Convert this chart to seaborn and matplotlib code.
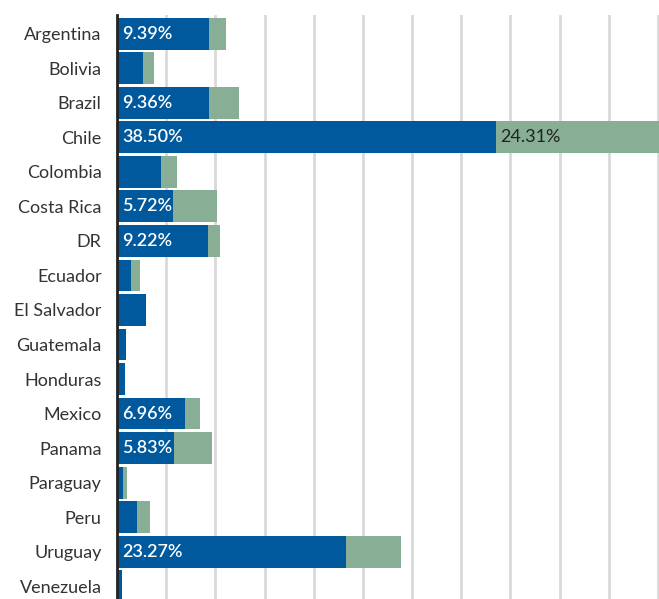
import seaborn as sns
import matplotlib.pyplot as plt
import pandas as pd

countries = ['Argentina', 'Bolivia', 'Brazil', 'Chile', 'Colombia', 'Costa Rica', 'DR',
             'Ecuador', 'El Salvador', 'Guatemala', 'Honduras', 'Mexico', 'Panama',
             'Paraguay', 'Peru', 'Uruguay', 'Venezuela']
blue_vals = [9.39, 2.6, 9.36, 38.50, 4.43, 5.72, 9.22, 1.46, 2.98, 0.95, 0.81,
             6.96, 5.83, 0.64, 2.06, 23.27, 0.5]
green_vals = [1.7, 1.2, 3.0, 24.31, 1.7, 4.47, 1.24, 0.91, 0.0, 0.0, 0.0,
              1.5, 3.84, 0.34, 1.25, 5.56, 0.0]
blue_labels = ['9.39%', '', '9.36%', '38.50%', '', '5.72%', '9.22%', '', '', '', '',
               '6.96%', '5.83%', '', '', '23.27%', '']
green_labels = ['', '', '', '24.31%', '', '', '', '', '', '', '', '', '', '', '', '', '']

df = pd.DataFrame({'pais': countries, 'azul': blue_vals, 'verde': green_vals})
df['total'] = df['azul'] + df['verde']

BLUE = '#00599c'
GREEN = '#88ae95'

sns.set_style('white')
plt.rcParams['font.family'] = ['Lato', 'DejaVu Sans']

fig = plt.figure(figsize=(6.59, 5.99), dpi=100)
ax = fig.add_axes([117 / 659, 0, 1 - 117 / 659, 1 - 15 / 599])

# total first (green), blue on top -> stacked look
sns.barplot(data=df, y='pais', x='total', color=GREEN, width=0.92, linewidth=0,
            saturation=1, ax=ax, orient='h')
sns.barplot(data=df, y='pais', x='azul', color=BLUE, width=0.92, linewidth=0,
            saturation=1, ax=ax, orient='h')

ax.set_xlim(0, 55.1)
ax.set_ylim(16.37, -0.54)
ax.set_xticks(range(0, 56, 5))
ax.set_xticklabels([])
ax.grid(axis='x', color='#d9d9d9', linewidth=2)
ax.grid(axis='y', visible=False)
ax.set_axisbelow(True)
ax.tick_params(axis='both', length=0)
ax.tick_params(axis='y', pad=11, labelsize=13, labelcolor='#333333')
for s in ['top', 'right', 'bottom']:
    ax.spines[s].set_visible(False)
ax.spines['left'].set_color('#222222')
ax.spines['left'].set_linewidth(2)
ax.set_xlabel('')
ax.set_ylabel('')

for i, (b, lb, lg) in enumerate(zip(blue_vals, blue_labels, green_labels)):
    if lb:
        ax.annotate(lb, (0, i), xytext=(3.5, 0), textcoords='offset points',
                    va='center', ha='left', color='white', fontsize=13, fontweight='semibold')
    if lg:
        ax.annotate(lg, (b, i), xytext=(3, 0), textcoords='offset points',
                    va='center', ha='left', color='#222222', fontsize=13)

fig.savefig('out.png', dpi=100)
